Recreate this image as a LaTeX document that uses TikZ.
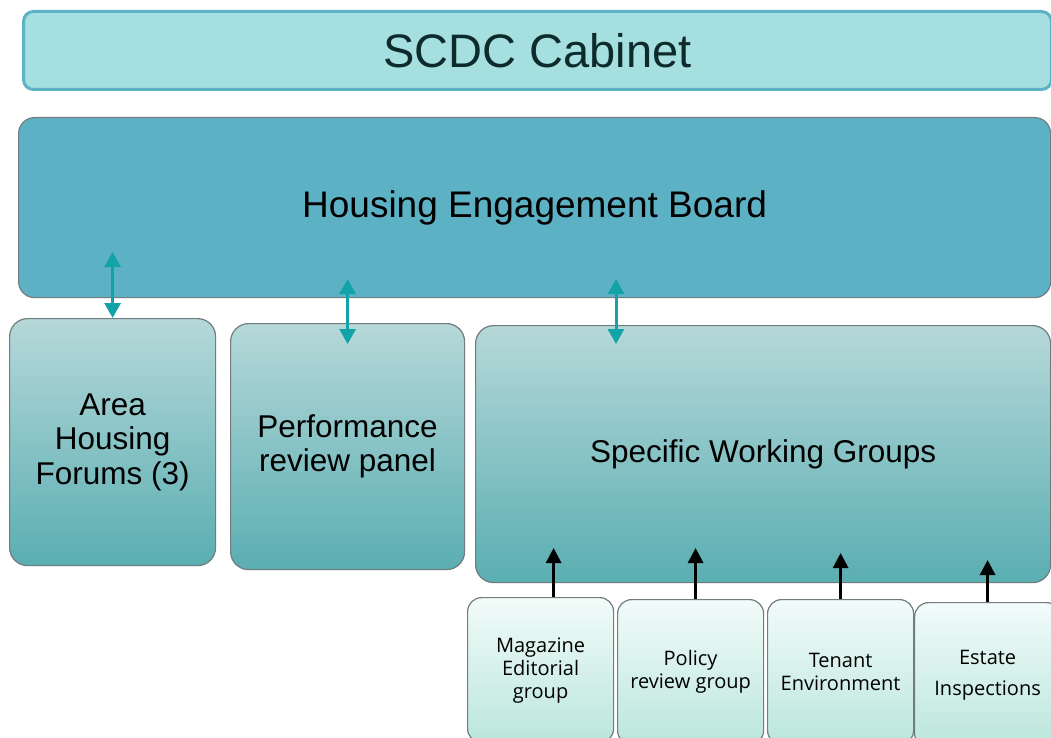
\documentclass[tikz,border=0pt]{standalone}
\usepackage{fontspec}
\setmainfont{Liberation Sans}
\newfontfamily\subfont{Open Sans}
\usetikzlibrary{positioning}
\usetikzlibrary{arrows.meta}
\usetikzlibrary{calc}

\definecolor{cabFill}{HTML}{A5DFE0}
\definecolor{cabLine}{HTML}{5DB3C5}
\definecolor{cabText}{HTML}{0D2B2B}
\definecolor{boardFill}{HTML}{5DB1C4}
\definecolor{boxLine}{HTML}{707C80}
\definecolor{groupTop}{HTML}{B6D8D9}
\definecolor{groupBot}{HTML}{5AAEB2}
\definecolor{subTop}{HTML}{F2FBF9}
\definecolor{subBot}{HTML}{BAE6DC}
\definecolor{arrowTeal}{HTML}{12A3A8}

\begin{document}
\begin{tikzpicture}[x=1pt,y=-1pt]

\tikzstyle{cabBox}=[rectangle,anchor=north west,align=center,minimum width=1028pt,minimum height=78pt,draw=cabLine,line width=3pt,fill=cabFill,rounded corners=10pt,text=cabText,font=\fontsize{47}{50}\selectfont];
\tikzstyle{boardBox}=[rectangle,anchor=north west,align=center,minimum width=1032pt,minimum height=180pt,draw=boxLine,line width=1.2pt,fill=boardFill,rounded corners=16pt,font=\fontsize{37}{40}\selectfont];
\tikzstyle{groupBox}=[rectangle,anchor=north west,align=center,draw=boxLine,line width=1.2pt,top color=groupTop,bottom color=groupBot,rounded corners=18pt,font=\fontsize{31.5}{34.5}\selectfont];
\tikzstyle{subBox}=[rectangle,anchor=north west,align=center,minimum width=146pt,minimum height=145pt,draw=boxLine,line width=1.2pt,top color=subTop,bottom color=subBot,rounded corners=14pt,font=\subfont\fontsize{20}{23}\selectfont];
\tikzstyle{twoWay}=[draw=arrowTeal,line width=3pt,{Triangle[width=16pt,length=15pt]}-{Triangle[width=16pt,length=15pt]}];
\tikzstyle{oneWay}=[draw=black,line width=3pt,-{Triangle[width=15pt,length=15pt]}];

\useasboundingbox (0,0) rectangle (1051,738);
\clip (0,0) rectangle (1051,738);

\node [cabBox] (cabinet) at (22,10) {SCDC Cabinet};
\node [boardBox] (board) at (18,117) {Housing Engagement Board};

\node [groupBox,minimum width=206pt,minimum height=247pt] (area) at (9,318) {Area\\Housing\\Forums (3)};
\node [groupBox,minimum width=234pt,minimum height=246pt] (perf) at (230,323) {Performance\\review panel};
\node [groupBox,minimum width=575pt,minimum height=257pt] (swg) at (475,325) {Specific Working Groups};

%\node [subBox, right=4pt of mag] (pol) {Policy\\review group};
\node [subBox] (mag) at (467,597) {Magazine\\Editorial\\group};
\node [subBox] (pol) at (617,599) {Policy\\review group};
\node [subBox] (ten) at (767,599) {Tenant\\Environment};
\node [subBox] (est) at (914,602) {Estate\\[8pt]Inspections};

\draw [twoWay] ([yshift=66pt]area.north) -- (area.north);
\draw [twoWay] ([yshift=44pt]perf.north) -- ([yshift=-21pt]perf.north);
\draw [twoWay] ($(swg.north west)+(141,-46)$) -- ($(swg.north west)+(141,19)$);

\draw [oneWay] ([xshift=13pt]mag.north) -- ([xshift=13pt,yshift=49pt]mag.north);
\draw [oneWay] ([xshift=5pt]pol.north) -- ([xshift=5pt,yshift=51pt]pol.north);
\draw [oneWay] (ten.north) -- ([yshift=46pt]ten.north);
\draw [oneWay] (est.north) -- ([yshift=42pt]est.north);

\end{tikzpicture}
\end{document}
